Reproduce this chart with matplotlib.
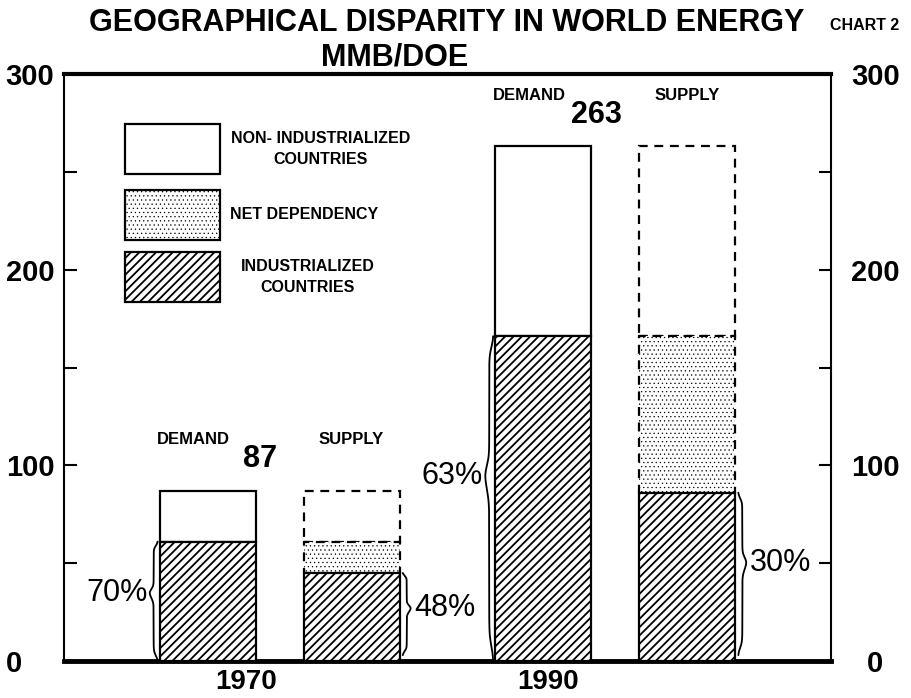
import numpy as np
import matplotlib
matplotlib.use('Agg')
import matplotlib.pyplot as plt
from matplotlib.patches import Rectangle

plt.rcParams['font.family'] = ['Liberation Sans', 'DejaVu Sans']
plt.rcParams['hatch.linewidth'] = 1.3

# values (MMB/DOE)
years = ['1970', '1990']
demand_total = [87, 263]
demand_industrial = [61, 166]
supply_industrial = [45, 86]
demand_pct = ['70%', '63%']
supply_pct = ['48%', '30%']
y_ticks = [0, 100, 200, 300]
y_minor = [50, 150, 250]

demand_x = np.array([1.5, 5.0])
supply_x = np.array([3.0, 6.5])
year_x = [1.9, 5.05]
width = 1.0
tip_frac = 0.57
HATCH_IND = '////'
HATCH_DEP = '....'

demand_total = np.array(demand_total)
demand_industrial = np.array(demand_industrial)
supply_industrial = np.array(supply_industrial)
non_industrial = demand_total - demand_industrial
net_dependency = demand_industrial - supply_industrial


def brace(ax, x, y0, y1, w, k=60, e=0.04):
    # curly brace from y0 to y1 at x, bulging by w (sign gives side)
    y = np.linspace(y0, y1, 300)
    s = (y - y0) / (y1 - y0)
    s2 = np.where(s < tip_frac, s / tip_frac * 0.5,
                  0.5 + (s - tip_frac) / (1 - tip_frac) * 0.5)
    s2 = np.where(s2 > 0.5, 1 - s2, s2)
    sig = lambda v: 1 / (1 + np.exp(-v))
    xx = x + w / 2 * (sig(k * (s2 - e)) + sig(k * (s2 - (0.5 - e))))
    ax.plot(xx, y, color='black', lw=1.3, solid_capstyle='round', zorder=5)
    return y0 + tip_frac * (y1 - y0)


fig = plt.figure(figsize=(9.12, 6.98), dpi=100)
ax = fig.add_axes([64 / 912, 37 / 698, 767 / 912, 587 / 698])

# demand bars
ax.bar(demand_x, demand_industrial, width, facecolor='white', edgecolor='black',
       hatch=HATCH_IND, lw=1.6, zorder=3)
ax.bar(demand_x, non_industrial, width, bottom=demand_industrial, facecolor='white',
       edgecolor='black', lw=1.6, zorder=2)

# supply bars
ax.bar(supply_x, non_industrial, width, bottom=demand_industrial, facecolor='white',
       edgecolor='black', lw=1.6, ls=(0, (4, 3)), zorder=1)
plt.rcParams['hatch.linewidth'] = 0.4
ax.bar(supply_x, net_dependency, width, bottom=supply_industrial, facecolor='white',
       edgecolor='black', lw=1.6, ls=(0, (4, 3)), hatch=HATCH_DEP, zorder=2)
dep_patch = Rectangle((0.079, 0.718), 0.125, 0.085, transform=ax.transAxes,
                      facecolor='white', edgecolor='black', hatch=HATCH_DEP, lw=1.6)
plt.rcParams['hatch.linewidth'] = 1.3
ax.bar(supply_x, supply_industrial, width, facecolor='white', edgecolor='black',
       hatch=HATCH_IND, lw=1.6, zorder=3)

# labels above bars
for i in range(len(years)):
    top = demand_total[i]
    ax.text(demand_x[i] - 0.15, top + 26, 'DEMAND', ha='center', va='center',
            fontsize=12, fontweight='bold')
    ax.text(supply_x[i], top + 26, 'SUPPLY', ha='center', va='center',
            fontsize=12, fontweight='bold')
    ax.text(demand_x[i] + 0.55, top + 16, str(top), ha='center', va='center',
            fontsize=22, fontweight='bold')

# braces with percentages
bw = 0.09
for i in range(len(years)):
    yt = brace(ax, demand_x[i] - width / 2 - 0.02, 0, demand_industrial[i], -bw)
    ax.text(demand_x[i] - width / 2 - 0.02 - bw - 0.02, yt, demand_pct[i],
            ha='right', va='center', fontsize=22)
    yt = brace(ax, supply_x[i] + width / 2 + 0.03, 3, supply_industrial[i], bw)
    ax.text(supply_x[i] + width / 2 + 0.03 + bw + 0.03, yt, supply_pct[i],
            ha='left', va='center', fontsize=22)

# legend drawn by hand
ax.add_patch(Rectangle((0.079, 0.830), 0.125, 0.085, transform=ax.transAxes,
                       facecolor='white', edgecolor='black', lw=1.6))
ax.add_patch(dep_patch)
ax.add_patch(Rectangle((0.079, 0.611), 0.125, 0.085, transform=ax.transAxes,
                       facecolor='white', edgecolor='black', hatch=HATCH_IND, lw=1.6))
leg = [('NON- INDUSTRIALIZED\nCOUNTRIES', 0.830, 0.335, 'center'),
       ('NET DEPENDENCY', 0.718, 0.217, 'left'),
       ('INDUSTRIALIZED\nCOUNTRIES', 0.611, 0.318, 'center')]
for label, yb, tx, ha in leg:
    ax.text(tx, yb + 0.0425, label, transform=ax.transAxes, ha=ha,
            va='center', multialignment='center', fontsize=11.5,
            fontweight='bold', linespacing=1.5)

ax.set_xlim(0, 8)
ax.set_ylim(0, 300)
ax.set_xticks(year_x, years)
ax.tick_params(axis='x', length=0, pad=6, labelsize=20)
for lab in ax.get_xticklabels():
    lab.set_fontweight('bold')

# left axis
ax.set_yticks(y_ticks, [str(v) for v in y_ticks])
ax.set_yticks(y_minor, minor=True)
ax.tick_params(axis='y', which='both', direction='in', length=9, width=1.5,
               right=False)
ax.tick_params(axis='y', which='major', labelsize=21, pad=42)
for lab in ax.get_yticklabels():
    lab.set_fontweight('bold')
    lab.set_ha('left')

# right axis
ax2 = ax.twinx()
ax2.set_ylim(ax.get_ylim())
ax2.set_yticks(y_ticks, [str(v) for v in y_ticks])
ax2.set_yticks(y_minor, minor=True)
ax2.tick_params(axis='y', which='both', direction='in', length=9, width=1.5)
ax2.tick_params(axis='y', which='major', labelsize=21, pad=32)
for lab in ax2.get_yticklabels():
    lab.set_fontweight('bold')
    lab.set_ha('center')
for sp in ax2.spines.values():
    sp.set_visible(False)

ax.spines['top'].set_linewidth(3)
ax.spines['bottom'].set_linewidth(3.5)
ax.spines['left'].set_linewidth(1.5)
ax.spines['right'].set_linewidth(1.5)

fig.text(447 / 912, 1 - 23 / 698, 'GEOGRAPHICAL DISPARITY IN WORLD ENERGY',
         ha='center', va='center', fontsize=22, fontweight='bold')
fig.text(395 / 912, 1 - 57 / 698, 'MMB/DOE', ha='center', va='center',
         fontsize=22, fontweight='bold')
fig.text(865 / 912, 1 - 26 / 698, 'CHART 2', ha='center', va='center',
         fontsize=11.5, fontweight='bold')

fig.savefig('out.png', dpi=100)
